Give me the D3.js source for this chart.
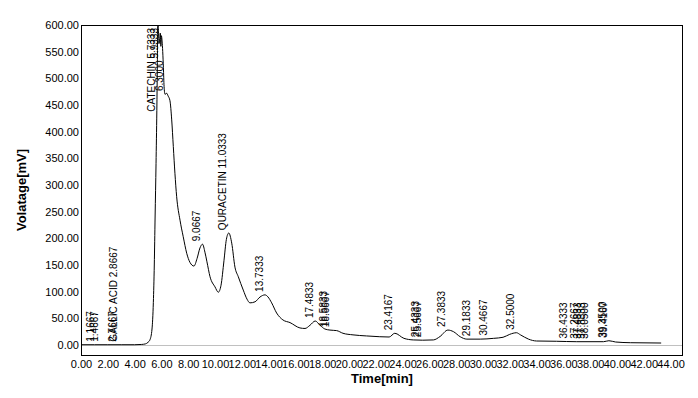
<!DOCTYPE html>
<html><head><meta charset="utf-8">
<script src="https://cdn.jsdelivr.net/npm/d3@7"></script>
<style>body{margin:0;background:#fff}svg{display:block}</style>
</head><body><svg id="c" width="698" height="398"></svg>
<script>
// ---- data ----
const timeMin = [0,1.0,2.0,3.0,4.0,4.5,4.8,5.0,5.15,5.3,5.4,5.47,5.53,5.6,5.66,5.7,5.73,5.78,5.82,5.88,5.92,5.96,6.0,6.05,6.1,6.15,6.2,6.27,6.4,6.5,6.64,6.77,6.89,7.01,7.14,7.39,7.63,7.89,8.13,8.43,8.66,8.88,9.07,9.25,9.4,9.63,10.0,10.25,10.45,10.67,10.85,11.03,11.25,11.49,11.74,12.11,12.39,12.61,12.99,13.36,13.73,13.96,14.23,14.6,15.07,15.6,16.34,16.72,17.09,17.48,17.84,18.2,18.58,19.08,19.55,20.3,21.3,22.3,23.0,23.42,24.1,24.8,25.5,26.3,26.8,27.38,27.8,28.3,28.8,29.8,30.8,31.5,32.0,32.5,32.8,33.4,34.0,35.5,37.0,39.0,39.4,39.9,41.0,43.3];
const voltageMV = [0.5,0.5,0.5,0.5,0.5,1,2,5,10,30,80,150,240,340,440,530,605,590,565,575,585,560,580,570,550,520,485,470,472,467,458,422,372,322,278,234,203,172,155,148,162,182,189,174,156,128,109,99,112,158,198,210,191,146,128,103,86,79,81,90,94,90,79,60,47,42,32,31,37,45,37,30,28,27,22,19,17,15.5,15,22,12.5,9.5,9,9.5,16,28,25,15.5,11,11,12.5,14.5,20,23,19,11,7.5,7,6.2,6.2,8,5.6,4.3,3.7];
const peakTimes = [1.1667,1.4667,2.7667,2.8667,5.7333,5.9333,6.3000,9.0667,11.0333,13.7333,17.4833,18.5833,18.6667,23.4167,25.4333,25.5667,27.3833,29.1833,30.4667,32.5000,36.4333,37.2667,37.4833,37.8333,38.0500,39.3500,39.4167];
const peakNames = ["1.1667","1.4667","2.7667","GALLIC ACID 2.8667","CATECHIN 5.7333","5.9333","6.3000","9.0667","QURACETIN 11.0333","13.7333","17.4833","18.5833","18.6667","23.4167","25.4333","25.5667","27.3833","29.1833","30.4667","32.5000","36.4333","37.2667","37.4833","37.8333","38.0500","39.3500","39.4167"];
const xTicks = [0,2,4,6,8,10,12,14,16,18,20,22,24,26,28,30,32,34,36,38,40,42,44];
const yTicks = [0,50,100,150,200,250,300,350,400,450,500,550,600];
const xTitle = "Time[min]";
const yTitle = "Volatage[mV]";

// ---- layout ----
const L = 81, R = 683, T = 25, B = 355;
const svg = d3.select("#c");
svg.append("rect").attr("width",698).attr("height",398).attr("fill","#fff");
const x = d3.scaleLinear().domain([0, 44.93]).range([L, R]);
const y = d3.scaleLinear().domain([-18.75, 600]).range([B, T]);
const font = "'Liberation Sans', Arial, sans-serif";

svg.append("clipPath").attr("id","pc").append("rect")
  .attr("x",L).attr("y",T).attr("width",R-L).attr("height",B-T);

// zero line
svg.append("line").attr("x1",L).attr("x2",R)
  .attr("y1",Math.round(y(0))+0.5).attr("y2",Math.round(y(0))+0.5)
  .attr("stroke","#c0c0c0").attr("stroke-width",1);

// curve
const pts = timeMin.map((t,i)=>[t, voltageMV[i]]);
svg.append("path").datum(pts)
  .attr("clip-path","url(#pc)")
  .attr("fill","none").attr("stroke","#000").attr("stroke-width",1)
  .attr("d", d3.line().x(d=>x(d[0])).y(d=>y(d[1])).curve(d3.curveMonotoneX));

// frame
svg.append("rect").attr("x",L+0.5).attr("y",T+0.5).attr("width",R-L-1).attr("height",B-T)
  .attr("fill","none").attr("stroke","#000").attr("stroke-width",1);

// axes
const ya = svg.append("g").attr("transform",`translate(${L},0)`)
  .call(d3.axisLeft(y).tickValues(yTicks).tickFormat(d3.format(".2f")).tickSize(0).tickPadding(2));
const xa = svg.append("g").attr("transform",`translate(0,${B})`)
  .call(d3.axisBottom(x).tickValues(xTicks).tickFormat(d3.format(".2f")).tickSize(0).tickPadding(5));
[ya,xa].forEach(g=>{
  g.select(".domain").remove();
  g.selectAll("text").attr("font-family",font).attr("font-size",11).attr("fill","#000");
});

// titles
svg.append("text").attr("x",(L+R)/2).attr("y",383).attr("text-anchor","middle")
  .attr("font-family",font).attr("font-size",13).attr("font-weight","bold").text(xTitle);
svg.append("text").attr("transform",`translate(26,${(T+B)/2}) rotate(-90)`).attr("text-anchor","middle")
  .attr("font-family",font).attr("font-size",13).attr("font-weight","bold").text(yTitle);

// peak labels
const bis = d3.bisector(d=>d).left;
function valAt(t){
  let i = bis(timeMin, t);
  if (i<=0) return voltageMV[0];
  if (i>=timeMin.length) return voltageMV[voltageMV.length-1];
  const t0=timeMin[i-1], t1=timeMin[i];
  return voltageMV[i-1] + (voltageMV[i]-voltageMV[i-1])*(t-t0)/(t1-t0);
}
const lg = svg.append("g");
peakTimes.forEach((t,i)=>{
  const px = x(t) - 2.5;
  const txt = lg.append("text").attr("font-family",font).attr("font-size",10).attr("fill","#000").text(peakNames[i]);
  const len = txt.node().getComputedTextLength();
  const yb = Math.max(y(Math.min(valAt(t),600)) - 3, T + 3 + len);
  txt.attr("transform",`translate(${px},${yb}) rotate(-90)`);
});
</script></body></html>
